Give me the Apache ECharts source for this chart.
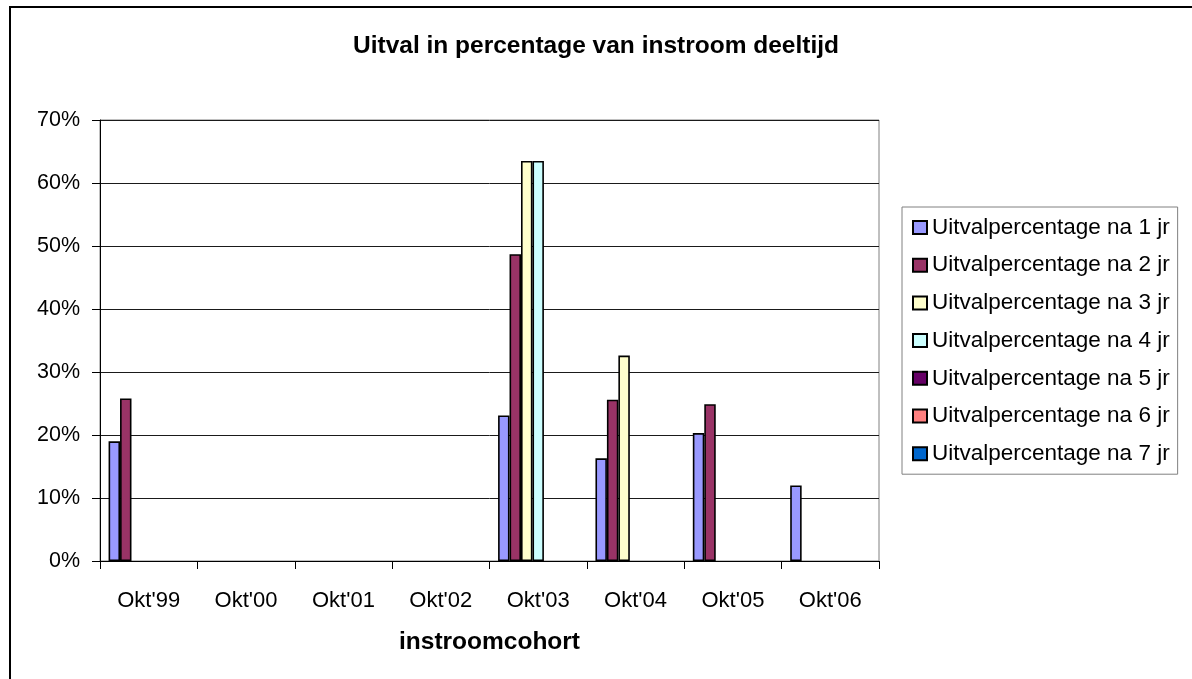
<!DOCTYPE html>
<html>
<head>
<meta charset="utf-8">
<script src="https://cdn.jsdelivr.net/npm/echarts@6/dist/echarts.min.js"></script>
<style>
html,body{margin:0;padding:0;background:#fff;}
#chart{width:1192px;height:679px;}
</style>
</head>
<body>
<div id="chart"></div>
<script>
const categories = ["Okt'99","Okt'00","Okt'01","Okt'02","Okt'03","Okt'04","Okt'05","Okt'06"];
const seriesNames = ["Uitvalpercentage na 1 jr","Uitvalpercentage na 2 jr","Uitvalpercentage na 3 jr","Uitvalpercentage na 4 jr","Uitvalpercentage na 5 jr","Uitvalpercentage na 6 jr","Uitvalpercentage na 7 jr"];
const na1 = [19.0, null, null, null, 23.1, 16.3, 20.3, 12.0];
const na2 = [25.8, null, null, null, 48.7, 25.6, 24.9, null];
const na3 = [null, null, null, null, 63.5, 32.6, null, null];
const na4 = [null, null, null, null, 63.5, null, null, null];
const na5 = [null, null, null, null, null, null, null, null];
const na6 = [null, null, null, null, null, null, null, null];
const na7 = [null, null, null, null, null, null, null, null];
const yTicks = [0, 10, 20, 30, 40, 50, 60, 70];

const colors = ['#9999FF','#993366','#FFFFCC','#CCFFFF','#660066','#FF8080','#0066CC'];
const allData = [na1, na2, na3, na4, na5, na6, na7];
const FONT = 'Liberation Sans, Arial, Helvetica, sans-serif';

const chart = echarts.init(document.getElementById('chart'), null, {renderer: 'canvas'});
chart.setOption({
  animation: false,
  backgroundColor: '#fff',
  color: colors,
  graphic: [{
    type: 'rect', silent: true, z: 100,
    shape: {x: 10, y: 7, width: 1400, height: 900},
    style: {fill: 'none', stroke: '#000', lineWidth: 2}
  }],
  title: {
    text: 'Uitval in percentage van instroom deeltijd',
    left: 'center', top: 29,
    textStyle: {fontFamily: FONT, fontSize: 24.5, fontWeight: 'bold', color: '#000'}
  },
  legend: {
    orient: 'vertical',
    left: 902, top: 207,
    width: 275,
    padding: [9, 8, 9, 10],
    itemGap: 14.7,
    itemWidth: 14, itemHeight: 13,
    icon: 'rect',
    borderColor: '#808080', borderWidth: 1,
    backgroundColor: '#fff',
    textStyle: {fontFamily: FONT, fontSize: 22.5, color: '#000'},
    data: seriesNames
  },
  grid: {left: 100, right: 313, top: 120, bottom: 118, show: true, borderColor: '#808080', borderWidth: 1},
  xAxis: {
    type: 'category',
    data: categories,
    name: 'instroomcohort',
    nameLocation: 'middle',
    nameGap: 69,
    nameTextStyle: {fontFamily: FONT, fontSize: 24.5, fontWeight: 'bold', color: '#000'},
    axisLine: {lineStyle: {color: '#000', width: 1}},
    axisTick: {show: true, length: 8, lineStyle: {color: '#000'}},
    axisLabel: {fontFamily: FONT, fontSize: 22, color: '#000', margin: 29},
    splitLine: {show: false}
  },
  yAxis: {
    type: 'value',
    min: 0, max: 70, interval: 10,
    axisLine: {show: true, lineStyle: {color: '#000', width: 1}},
    axisTick: {show: true, length: 8, lineStyle: {color: '#000'}},
    axisLabel: {fontFamily: FONT, fontSize: 21.5, color: '#000', margin: 20,
      formatter: v => yTicks.includes(v) ? v + '%' : ''},
    splitLine: {show: true, lineStyle: {color: '#1a1a1a', width: 1}}
  },
  series: allData.map((d, i) => ({
    name: seriesNames[i],
    type: 'bar',
    data: d,
    barGap: '0%',
    barCategoryGap: '17.6%',
    itemStyle: {color: colors[i], borderColor: '#000', borderWidth: 1.6}
  }))
});
</script>
</body>
</html>
